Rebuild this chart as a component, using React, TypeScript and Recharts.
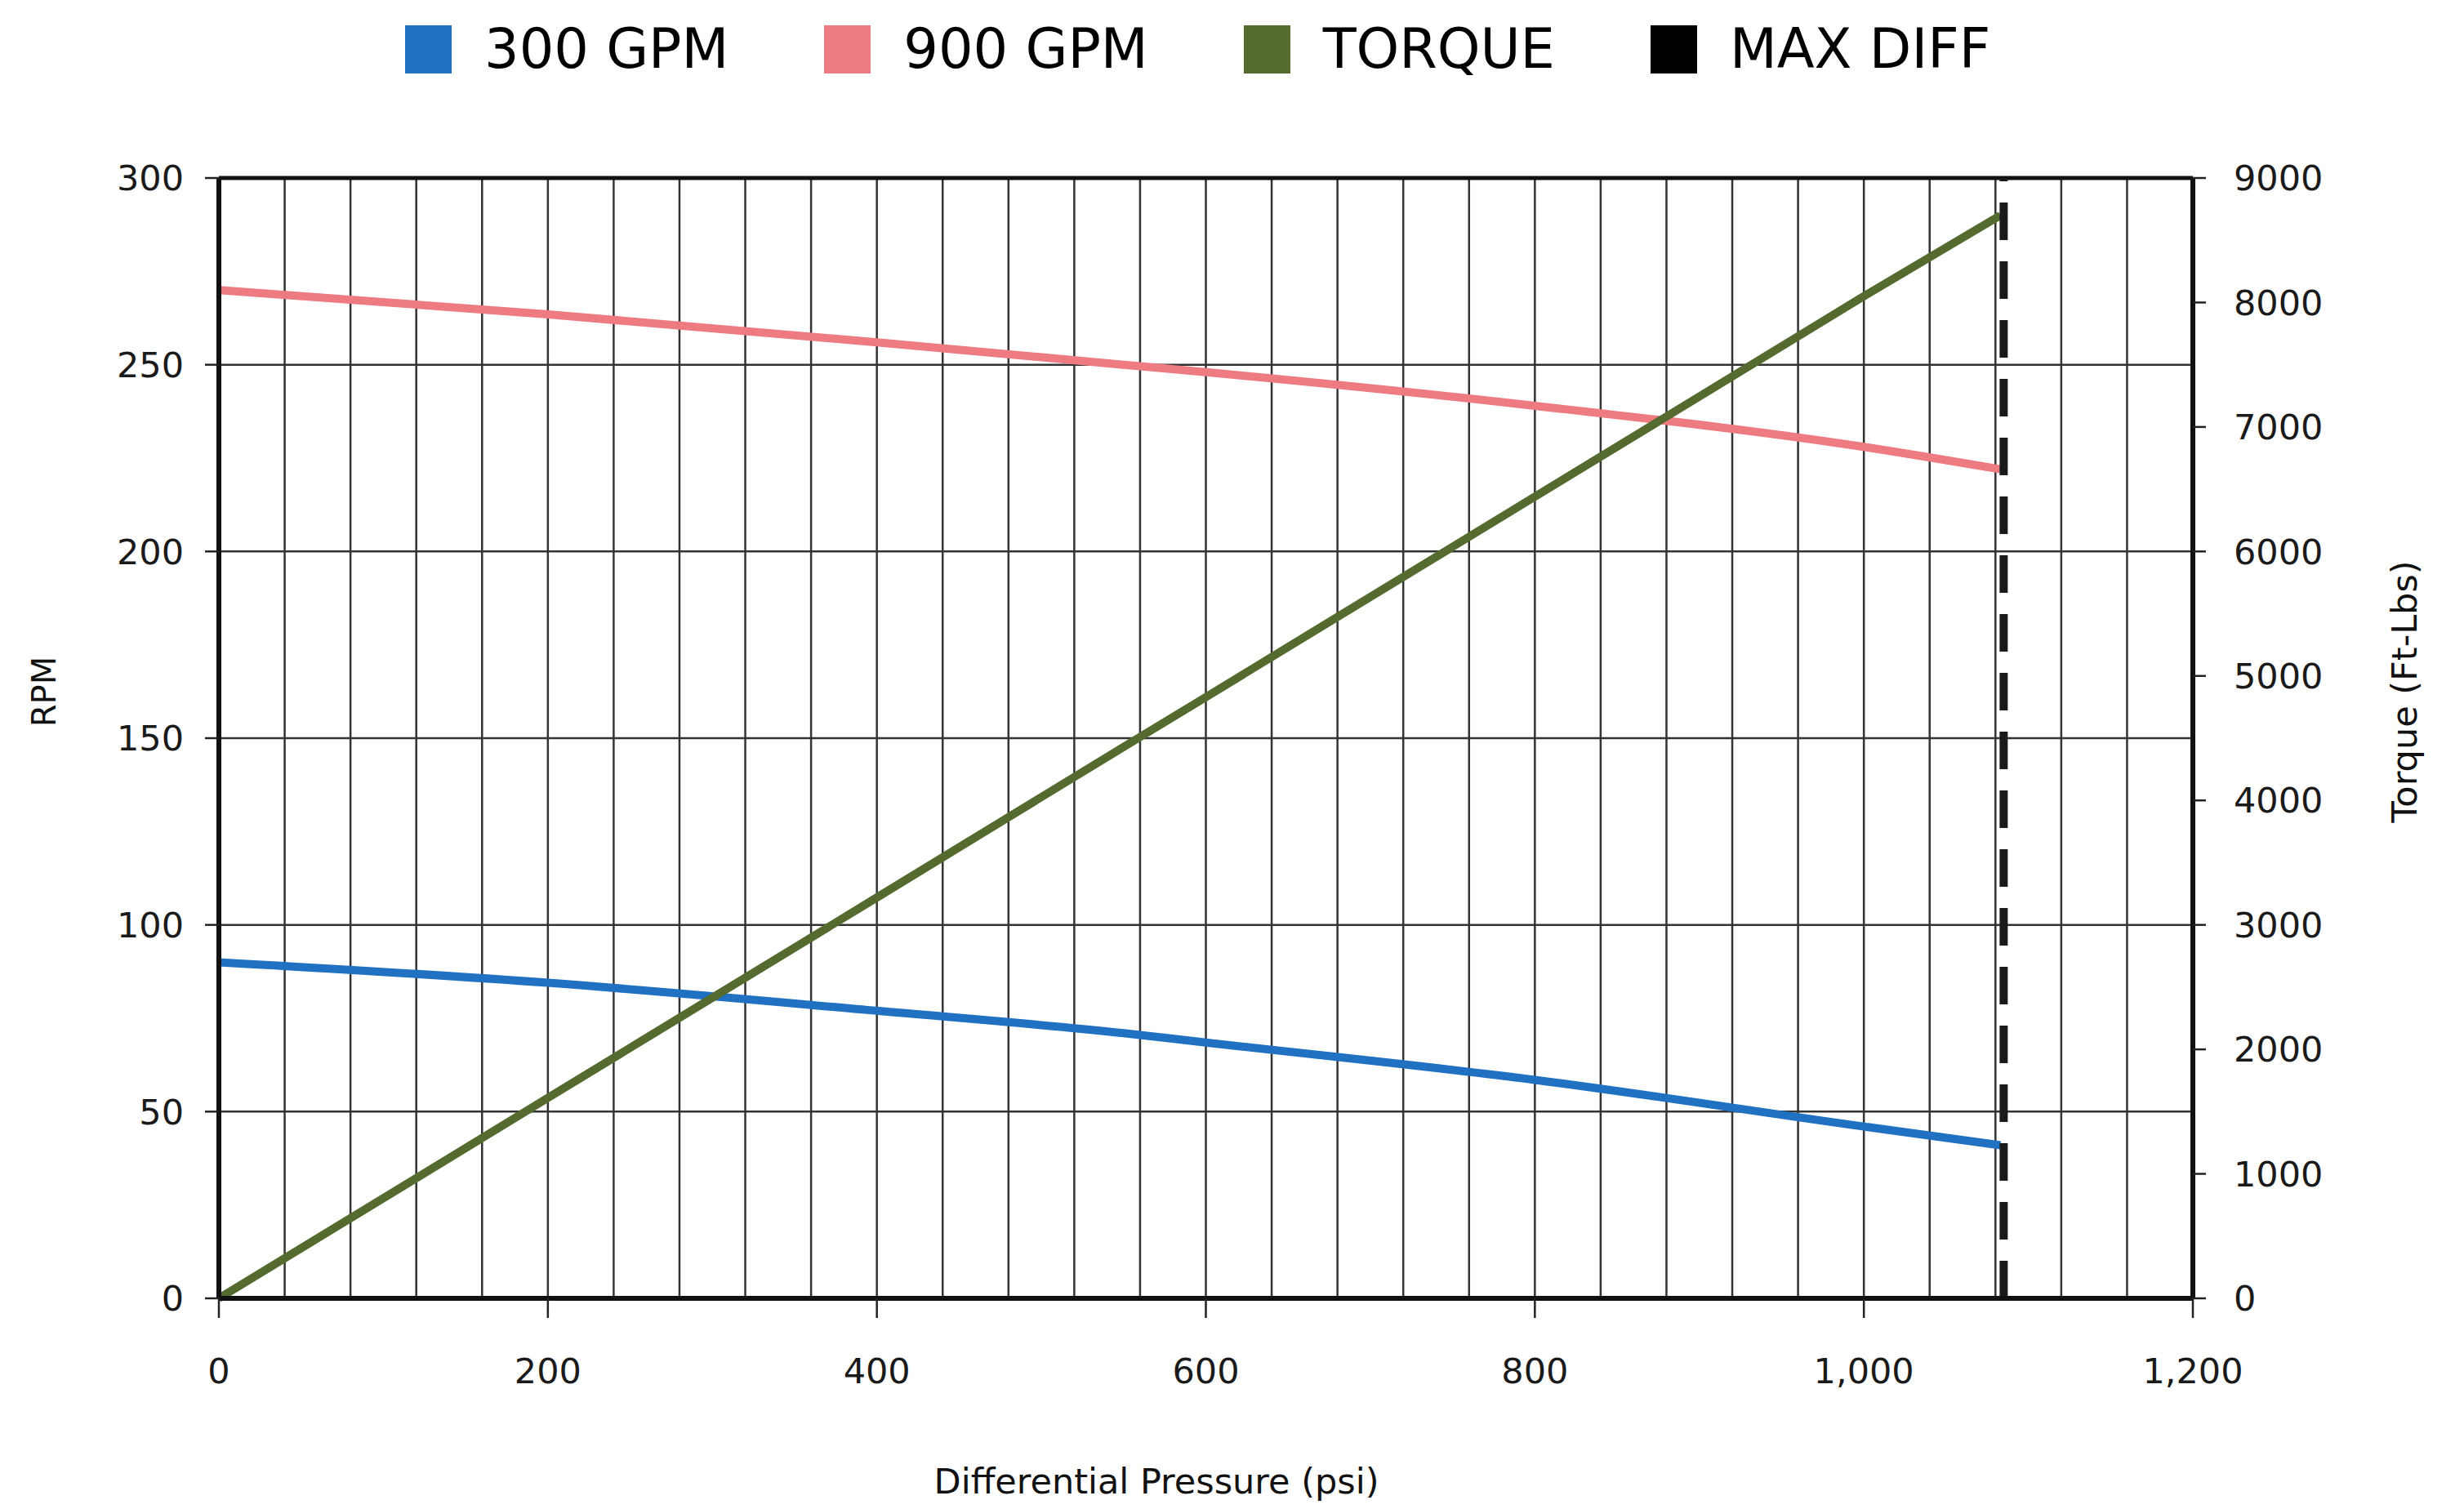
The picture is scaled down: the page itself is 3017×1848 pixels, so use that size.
import React from 'react';
import { LineChart, Line, XAxis, YAxis, ReferenceLine } from 'recharts';

// ---- data ----
const pressure = [0, 200, 400, 550, 600, 800, 1000, 1083];
const rpm300 = [90, 84.5, 77, 71, 68.5, 58.5, 46, 41];
const rpm900 = [270, 263.5, 256, 250, 248, 239, 228, 222];
const torque = [0, 1610, 3220, 4430, 4830, 6440, 8050, 8700];
const maxDiff = 1085;

const xTicks = [0, 200, 400, 600, 800, 1000, 1200];
const yLeftTicks = [0, 50, 100, 150, 200, 250, 300];
const yRightTicks = [0, 1000, 2000, 3000, 4000, 5000, 6000, 7000, 8000, 9000];
const xGrid = [40, 80, 120, 160, 200, 240, 280, 320, 360, 400, 440, 480, 520, 560, 600, 640, 680, 720, 760, 800, 840, 880, 920, 960, 1000, 1040, 1080, 1120, 1160];
const yGrid = [50, 100, 150, 200, 250];

const legendItems = [
  { name: '300 GPM', color: '#2171C2' },
  { name: '900 GPM', color: '#EE7A82' },
  { name: 'TORQUE', color: '#546A2E' },
  { name: 'MAX DIFF', color: '#000000' },
];

const data = pressure.map((p, i) => ({ psi: p, gpm300: rpm300[i], gpm900: rpm900[i], torque: torque[i] }));

const FONT = '"DejaVu Sans", Verdana, sans-serif';
const tickStyle = { fontFamily: FONT, fontSize: 43, fill: '#1a1a1a' };

export default function App() {
  return (
    <div style={{ position: 'absolute', left: 0, top: 0, width: 3017, height: 1848, background: '#fff', fontFamily: FONT }}>
      <LineChart width={3017} height={1848} data={data} margin={{ top: 218, right: 132, bottom: 138, left: 118 }}>
        {xGrid.map((v) => (
          <ReferenceLine key={'gx' + v} x={v} yAxisId="left" stroke="#333" strokeWidth={2.5} />
        ))}
        {yGrid.map((v) => (
          <ReferenceLine key={'gy' + v} y={v} yAxisId="left" stroke="#333" strokeWidth={2.5} />
        ))}
        <ReferenceLine y={300} yAxisId="left" stroke="#111" strokeWidth={5} />
        <XAxis
          dataKey="psi"
          type="number"
          domain={[0, 1200]}
          ticks={xTicks}
          tickFormatter={(v: number) => v.toLocaleString('en-US')}
          height={120}
          tick={tickStyle}
          tickSize={24}
          tickMargin={49}
          axisLine={{ stroke: '#111', strokeWidth: 6 }}
          tickLine={{ stroke: '#222', strokeWidth: 2.5 }}
        />
        <YAxis
          yAxisId="left"
          orientation="left"
          domain={[0, 300]}
          ticks={yLeftTicks}
          width={150}
          tick={tickStyle}
          tickSize={17}
          tickMargin={26}
          axisLine={{ stroke: '#111', strokeWidth: 6 }}
          tickLine={{ stroke: '#222', strokeWidth: 2.5 }}
        />
        <YAxis
          yAxisId="right"
          orientation="right"
          domain={[0, 9000]}
          ticks={yRightTicks}
          width={200}
          tick={{ ...tickStyle, textAnchor: 'start' }}
          tickSize={16}
          tickMargin={34}
          axisLine={{ stroke: '#111', strokeWidth: 6 }}
          tickLine={{ stroke: '#222', strokeWidth: 2.5 }}
        />
        <Line yAxisId="left" type="monotone" dataKey="gpm300" stroke="#2171C2" strokeWidth={10} dot={false} isAnimationActive={false} />
        <Line yAxisId="left" type="monotone" dataKey="gpm900" stroke="#EE7A82" strokeWidth={10} dot={false} isAnimationActive={false} />
        <Line yAxisId="right" type="linear" dataKey="torque" stroke="#546A2E" strokeWidth={10} dot={false} isAnimationActive={false} />
        <ReferenceLine x={maxDiff} yAxisId="left" stroke="#1a1a1a" strokeWidth={10} strokeDasharray="46 26" />
      </LineChart>

      {/* legend */}
      <div style={{ position: 'absolute', left: 496, top: 31, display: 'flex', alignItems: 'center', gap: 117, height: 59 }}>
        {legendItems.map((it) => (
          <div key={it.name} style={{ display: 'flex', alignItems: 'center' }}>
            <div style={{ width: 57, height: 59, background: it.color }} />
            <span style={{ marginLeft: 40, fontSize: 67, lineHeight: '59px', color: '#000', whiteSpace: 'nowrap' }}>{it.name}</span>
          </div>
        ))}
      </div>

      {/* axis titles */}
      <div style={{ position: 'absolute', left: 54, top: 847, transform: 'translate(-50%, -50%) rotate(-90deg)', fontSize: 40, whiteSpace: 'nowrap', color: '#111' }}>RPM</div>
      <div style={{ position: 'absolute', left: 2944, top: 847, transform: 'translate(-50%, -50%) rotate(-90deg)', fontSize: 43, whiteSpace: 'nowrap', color: '#111' }}>Torque (Ft-Lbs)</div>
      <div style={{ position: 'absolute', left: 1416, top: 1814, transform: 'translate(-50%, -50%)', fontSize: 43, whiteSpace: 'nowrap', color: '#111' }}>Differential Pressure (psi)</div>
    </div>
  );
}
